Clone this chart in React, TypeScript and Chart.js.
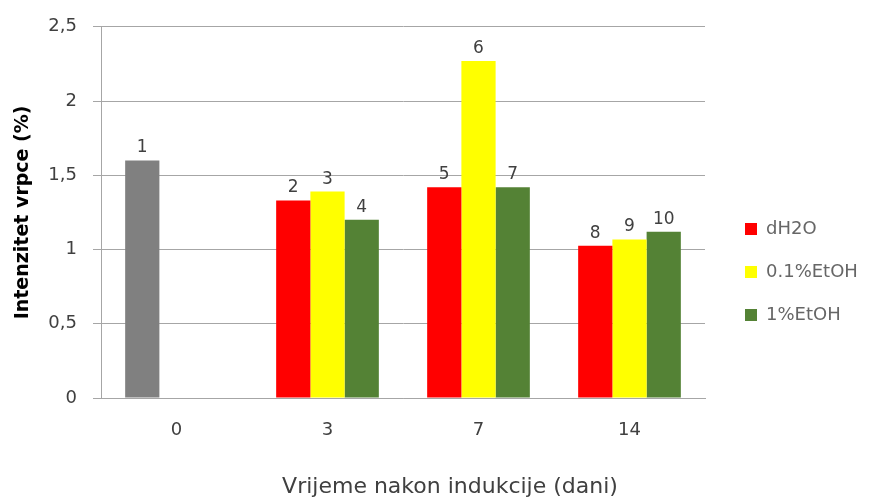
import React, { useEffect, useRef } from 'react';
import { Chart, registerables } from 'chart.js';

Chart.register(...registerables);

const categories = ['0', '3', '7', '14'];
const seriesNames = ['dH2O', '0.1%EtOH', '1%EtOH'];
const dH2O = [1.6, 1.33, 1.42, 1.025];
const etoh01 = [null, 1.39, 2.27, 1.068];
const etoh1 = [null, 1.2, 1.42, 1.119];
const dH2OLabels = ['1', '2', '5', '8'];
const etoh01Labels = ['', '3', '6', '9'];
const etoh1Labels = ['', '4', '7', '10'];
const yTitle = 'Intenzitet vrpce (%)';
const xTitle = 'Vrijeme nakon indukcije (dani)';

const seriesColors = ['#ff0000', '#ffff00', '#548235'];
const controlColor = '#808080';
const gridColor = '#a6a6a6';
const textColor = '#404040';
const FONT = "'DejaVu Sans', sans-serif";

const barLabelPlugin = {
  id: 'barLabels',
  afterLayout(chart: any) {
    // centre the bottom axis title under the whole figure, as in the original
    const tb = chart.titleBlock;
    if (tb) {
      tb.left += 16;
      tb.right += 16;
    }
  },
  afterDatasetsDraw(chart: any) {
    const ctx = chart.ctx;
    const allLabels = [dH2OLabels, etoh01Labels, etoh1Labels];
    ctx.save();
    ctx.font = `17px ${FONT}`;
    ctx.fillStyle = textColor;
    ctx.textAlign = 'center';
    ctx.textBaseline = 'bottom';
    chart.data.datasets.forEach((ds: any, di: number) => {
      const meta = chart.getDatasetMeta(di);
      meta.data.forEach((el: any, i: number) => {
        const v = ds.data[i];
        if (v === null || v === undefined) return;
        ctx.fillText(allLabels[di][i], el.x, el.y - 4);
      });
    });
    ctx.restore();
  },
};

export default function App() {
  const ref = useRef<HTMLCanvasElement>(null);
  useEffect(() => {
    if (!ref.current) return;
    const chart = new Chart(ref.current, {
      type: 'bar',
      data: {
        labels: categories,
        datasets: [
          {
            label: seriesNames[0],
            data: dH2O,
            backgroundColor: [controlColor, seriesColors[0], seriesColors[0], seriesColors[0]],
            barPercentage: 1,
            categoryPercentage: 0.68,
          },
          {
            label: seriesNames[1],
            data: etoh01,
            backgroundColor: seriesColors[1],
            barPercentage: 1,
            categoryPercentage: 0.68,
          },
          {
            label: seriesNames[2],
            data: etoh1,
            backgroundColor: seriesColors[2],
            barPercentage: 1,
            categoryPercentage: 0.68,
          },
        ],
      },
      options: {
        animation: false,
        responsive: false,
        layout: { padding: { left: 5, top: 26, right: 9, bottom: 0 } },
        plugins: {
          tooltip: { enabled: false },
          title: {
            display: true,
            position: 'bottom',
            align: 'center',
            text: xTitle,
            color: textColor,
            font: { family: FONT, size: 22, weight: 'normal' },
            padding: { top: 10, bottom: 0 },
          },
          legend: {
            position: 'right',
            align: 'center',
            title: {
              display: true,
              text: ' ',
              font: { family: FONT, size: 10 },
              padding: { top: 3, bottom: 3 },
            },
            labels: {
              boxWidth: 12,
              boxHeight: 12,
              padding: 25,
              color: textColor,
              font: { family: FONT, size: 18 },
              generateLabels: () =>
                seriesNames.map((t, i) => ({
                  text: t,
                  fillStyle: seriesColors[i],
                  strokeStyle: seriesColors[i],
                  lineWidth: 0,
                  hidden: false,
                  datasetIndex: i,
                })),
            },
          },
        },
        scales: {
          x: {
            grid: { display: false, drawTicks: false },
            border: { display: true, color: gridColor },
            ticks: { padding: 22, color: textColor, font: { family: FONT, size: 18 } },
          },
          y: {
            min: 0,
            max: 2.5,
            afterFit: (s: any) => {
              s.width = 96;
            },
            ticks: {
              stepSize: 0.5,
              padding: 16,
              color: textColor,
              font: { family: FONT, size: 18 },
              callback: (v: any) => String(v).replace('.', ','),
            },
            grid: { color: gridColor, tickLength: 8 },
            border: { color: gridColor },
            title: {
              display: true,
              text: yTitle,
              color: '#000000',
              font: { family: FONT, size: 19, weight: 'bold' },
              padding: { top: 7, bottom: 10 },
            },
          },
          y2: {
            position: 'right',
            display: true,
            grid: { display: false, drawTicks: false },
            border: { display: false },
            ticks: { display: false },
            afterFit: (s: any) => {
              s.width = 15;
            },
          },
        },
      },
      plugins: [barLabelPlugin],
    } as any);
    return () => chart.destroy();
  }, []);
  return (
    <div style={{ position: 'fixed', left: 0, top: 0, width: 872, height: 500, background: '#fff' }}>
      <canvas ref={ref} width={872} height={500} />
    </div>
  );
}
